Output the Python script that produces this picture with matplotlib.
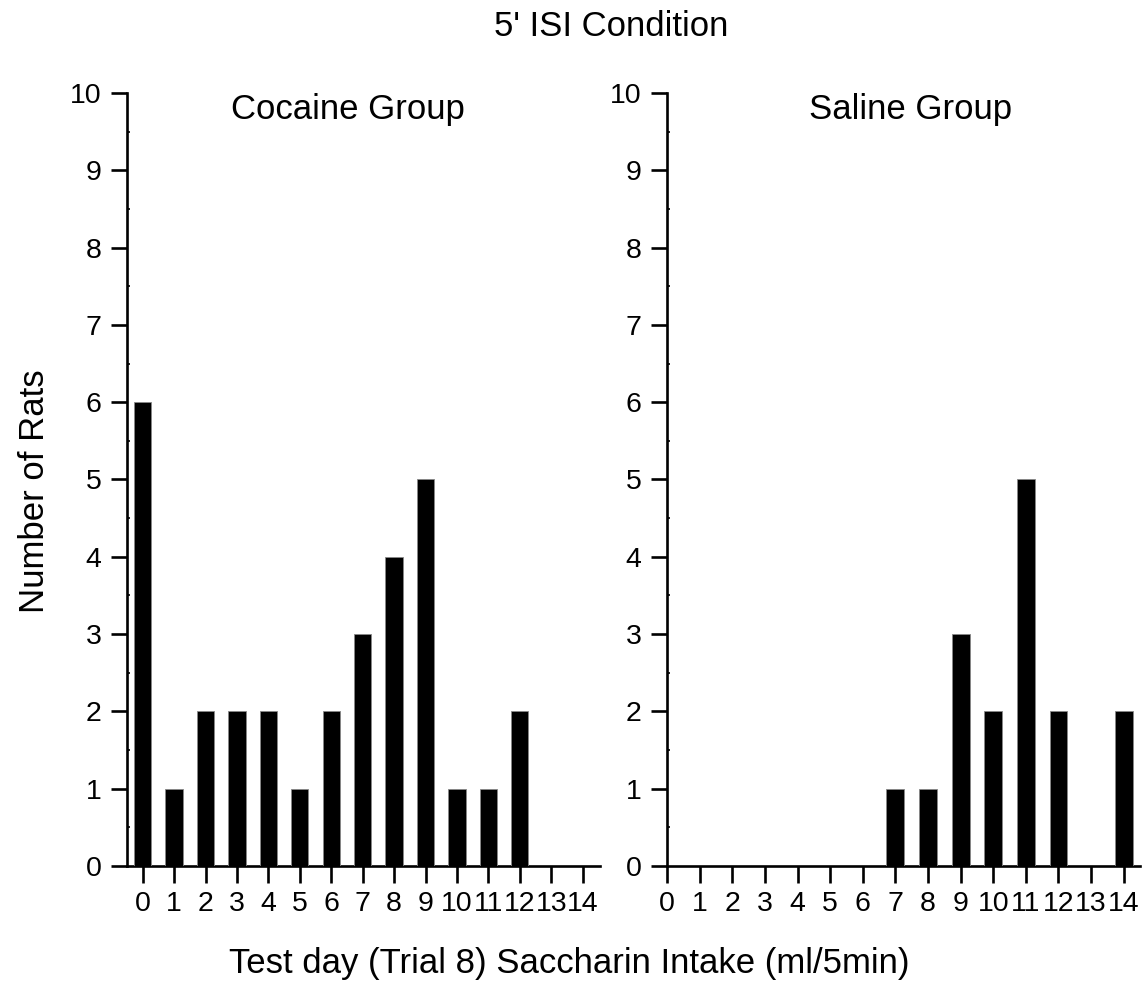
import numpy as np
import matplotlib
matplotlib.use("Agg")
import matplotlib.pyplot as plt
from matplotlib.ticker import MultipleLocator

plt.rcParams['font.family'] = ['Liberation Sans', 'DejaVu Sans']

# saccharin intake bins (ml/5min) and number of rats in each
intake = np.arange(15)
cocaine_counts = [6, 1, 2, 2, 2, 1, 2, 3, 4, 5, 1, 1, 2, 0, 0]
saline_counts = [0, 0, 0, 0, 0, 0, 0, 1, 1, 3, 2, 5, 2, 0, 2]
tick_labels = [str(i) for i in intake]

fig = plt.figure(figsize=(11.43, 9.93), dpi=100)
ax1 = fig.add_axes([0.1111, 0.1279, 0.4138, 0.7785])
ax2 = fig.add_axes([0.5836, 0.1279, 0.4138, 0.7785])

def style_panel(ax, counts, name, xlim, name_x):
    ax.bar(intake, counts, width=0.55, color='black', edgecolor='#888888',
           linewidth=0.6, zorder=3)
    ax.set_xlim(*xlim)
    ax.set_ylim(0, 10)
    ax.spines['top'].set_visible(False)
    ax.spines['right'].set_visible(False)
    for s in ('left', 'bottom'):
        ax.spines[s].set_linewidth(1.9)
    ax.set_xticks(intake)
    ax.set_xticklabels(tick_labels)
    ax.yaxis.set_major_locator(MultipleLocator(1))
    ax.yaxis.set_minor_locator(MultipleLocator(0.5))
    ax.tick_params(axis='x', which='major', direction='out', length=12,
                   width=1.9, labelsize=20.5, pad=6)
    ax.tick_params(axis='y', which='major', direction='out', length=11.5,
                   width=1.9, labelsize=20.5, pad=7)
    ax.tick_params(axis='y', which='minor', direction='in', length=2.5, width=1.2)
    ax.text(name_x, 0.966, name, transform=ax.transAxes, ha='center',
            va='baseline', fontsize=25)

style_panel(ax1, cocaine_counts, 'Cocaine Group', (-0.5, 14.55), 0.467)
style_panel(ax2, saline_counts, 'Saline Group', (0, 14.5), 0.514)

fig.text(0.535, 0.964, "5' ISI Condition", ha='center', va='baseline', fontsize=25)
fig.text(0.030, 0.505, 'Number of Rats', ha='center', va='center',
         rotation=90, fontsize=25)
fig.text(0.498, 0.020, 'Test day (Trial 8) Saccharin Intake (ml/5min)',
         ha='center', va='baseline', fontsize=25)

fig.savefig('out.png', dpi=100)
